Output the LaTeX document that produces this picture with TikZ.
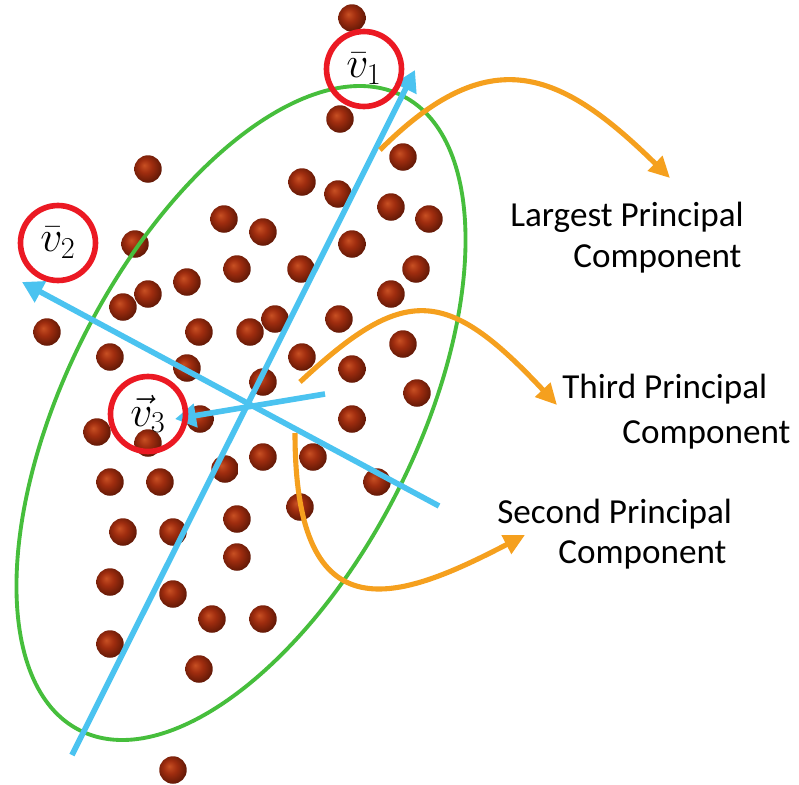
\documentclass[tikz,border=0pt]{standalone}
\usepackage{fontspec}
\newfontfamily\pcfont{Carlito}
\usepackage{xcolor}
\usetikzlibrary{arrows.meta, positioning, calc}
\definecolor{pcgreen}{RGB}{70,190,60}
\definecolor{pcblue}{RGB}{75,195,240}
\definecolor{pcred}{RGB}{235,25,35}
\definecolor{pcorange}{RGB}{245,160,30}
\definecolor{dotlight}{RGB}{200,80,35}
\definecolor{dotmid}{RGB}{160,45,15}
\definecolor{dotdark}{RGB}{90,22,5}
\pgfdeclareradialshading{dotball}{\pgfpoint{-7bp}{7bp}}{color(0bp)=(dotlight); color(12bp)=(dotmid); color(30bp)=(dotdark); color(50bp)=(dotdark)}
\tikzset{
    dot/.style = {circle, minimum size=0.55cm, inner sep=0pt, shade, shading=dotball},
    cloud/.style = {pcgreen, line width=2.2pt},
    pcaxis/.style = {pcblue, line width=3.2pt, -{Triangle[length=4.2mm, width=4.6mm]}},
    ring/.style = {circle, draw=pcred, line width=3.2pt, minimum size=1.5cm, inner sep=0pt, font=\fontsize{24}{24}\selectfont},
    pointer/.style = {pcorange, line width=2.9pt, -{Triangle[length=4.2mm, width=4mm]}},
    pclabel/.style = {font=\pcfont\fontsize{20}{24}\selectfont, anchor=base west, inner sep=0pt}
}

\begin{document}
\begin{tikzpicture}[x=0.02cm, y=0.02cm]
\useasboundingbox (0,0) rectangle (799,-785);

% data points
\foreach \px/\py [count=\i] in {352/18, 340/119, 403/157, 148/169, 302/182, 338/194, 391/207, 429/219,
    224/219, 263/232, 135/244, 352/244, 416/269, 237/269, 301/269, 187/282, 148/294, 123/307,
    391/294, 47/332, 199/332, 250/332, 275/319, 339/319, 403/344, 110/357, 302/357, 187/368,
    352/369, 263/382, 417/393, 200/419, 97/432, 148/443, 352/419, 263/457, 313/457, 225/469,
    110/482, 160/482, 377/482, 300/507, 123/532, 173/532, 237/519, 237/557, 110/582, 173/594,
    212/619, 263/619, 110/644, 199/669, 173/770}
    \node[dot] (dot\i) at (\px,-\py) {};

% green ellipse
\coordinate (centre) at (241,-413);
\draw[cloud, rotate around={63:(centre)}] (centre) ellipse [x radius=7.12cm, y radius=3.5cm];

% principal axes
\coordinate (v1tail) at (72,-755);
\coordinate (v1head) at (415,-70);
\coordinate (v2tail) at (439,-506);
\coordinate (v2head) at (22,-282);
\coordinate (v3tail) at (325,-394);
\coordinate (v3head) at (175,-419);
\draw[pcaxis] (v1tail) -- (v1head);
\draw[pcaxis] (v2tail) -- (v2head);
\draw[pcaxis] (v3tail) -- (v3head);

% labels on the arrows
\node[ring] (ring1) at (364,-69) {$\bar{v}_1$};
\node[ring] (ring2) at (58,-243) {$\bar{v}_2$};
\node[ring] (ring3) at (148,-414) {$\vec{v}_3$};

% text
\node[pclabel] (largest) at (510,-226) {Largest Principal};
\node[pclabel] (largestb) at (573,-267) {Component};
\node[pclabel] (third) at (562,-398) {Third Principal};
\node[pclabel] (thirdb) at (622,-443) {Component};
\node[pclabel] (second) at (497,-523) {Second Principal};
\node[pclabel] (secondb) at (558,-563) {Component};

% orange pointers
\coordinate (from1) at (380,-150);
\coordinate (to1) at (670,-178);
\coordinate (from3) at (300,-382);
\coordinate (to3) at (557,-405);
\coordinate (from2) at (295,-433);
\coordinate (to2) at (525,-535);
\draw[pointer] (from1) .. controls (490,-40) and (560,-70) .. (to1);
\draw[pointer] (from3) .. controls (404,-285) and (446,-286) .. (to3);
\draw[pointer] (from2) .. controls (295,-640) and (400,-600) .. (to2);
\end{tikzpicture}
\end{document}
